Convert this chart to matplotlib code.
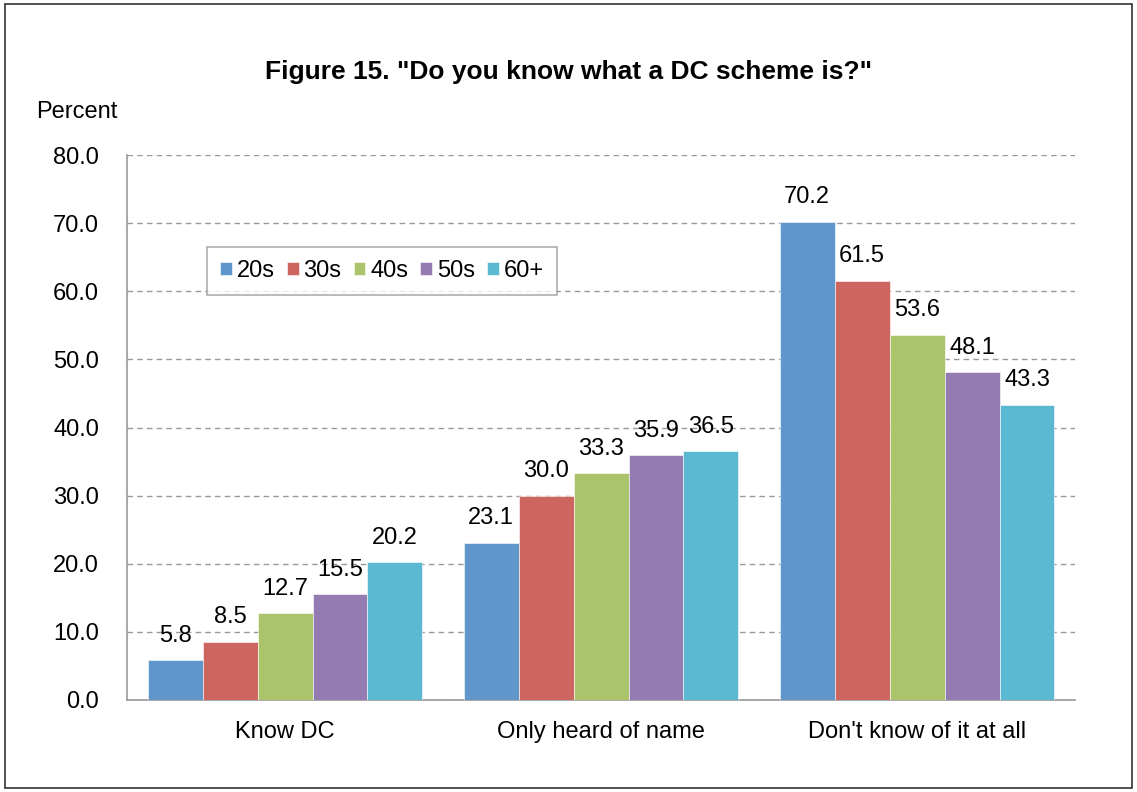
import matplotlib
matplotlib.use("Agg")
import matplotlib.pyplot as plt
import numpy as np
from matplotlib.patches import Rectangle

plt.rcParams['font.family'] = ['Liberation Sans', 'DejaVu Sans']

categories = ["Know DC", "Only heard of name", "Don't know of it at all"]
series = ["20s", "30s", "40s", "50s", "60+"]
values = {
    "20s": [5.8, 23.1, 70.2],
    "30s": [8.5, 30.0, 61.5],
    "40s": [12.7, 33.3, 53.6],
    "50s": [15.5, 35.9, 48.1],
    "60+": [20.2, 36.5, 43.3],
}
colors = ["#6096c9", "#cd6660", "#abc46b", "#947cb2", "#5ab9d1"]
yticks = [0, 10, 20, 30, 40, 50, 60, 70, 80]

FS = 17

fig = plt.figure(figsize=(11.37, 7.92), dpi=100)
fig.patches.append(Rectangle((0.004, 0.005), 0.992, 0.99, transform=fig.transFigure,
                             fill=False, edgecolor="#333333", linewidth=1.2))
ax = fig.add_axes([0.1117, 0.1162, 0.8338, 0.688])

x = np.arange(len(categories))
bw = 0.174
for i, s in enumerate(series):
    pos = x + (i - 2) * bw
    ax.bar(pos, values[s], width=bw, color=colors[i], label=s,
           edgecolor="white", linewidth=0.4, zorder=3)
    for xp, v in zip(pos, values[s]):
        ax.text(xp, v + 2.0, f"{v:.1f}", ha="center", va="bottom", fontsize=FS, zorder=4)

ax.set_xlim(-0.5, 2.5)
ax.set_ylim(0, 80)
ax.set_yticks(yticks)
ax.set_yticklabels([f"{t:.1f}" for t in yticks], fontsize=FS)
ax.set_xticks(x)
ax.set_xticklabels(categories, fontsize=FS)
ax.tick_params(axis="x", length=0, pad=15)
ax.tick_params(axis="y", length=0, pad=20)
ax.yaxis.grid(True, linestyle=(0, (4, 3)), color="#999999", linewidth=1.0, zorder=0)
ax.set_axisbelow(True)
for sp in ["top", "right"]:
    ax.spines[sp].set_visible(False)
for sp in ["left", "bottom"]:
    ax.spines[sp].set_color("#999999")
    ax.spines[sp].set_linewidth(1.2)

fig.text(0.5, 0.909, 'Figure 15. "Do you know what a DC scheme is?"', ha="center", va="center",
         fontsize=19, fontweight="bold")
fig.text(0.032, 0.858, "Percent", ha="left", va="center", fontsize=FS)

leg = ax.legend(loc="upper left", bbox_to_anchor=(0.0844, 0.831), ncol=5, fontsize=FS,
                frameon=True, fancybox=False, edgecolor="#999999", handlelength=0.5,
                handleheight=0.5, handletextpad=0.2, columnspacing=0.52, borderpad=0.55,
                borderaxespad=0)
leg.get_frame().set_linewidth(1.2)

fig.savefig("out.png", dpi=100)
